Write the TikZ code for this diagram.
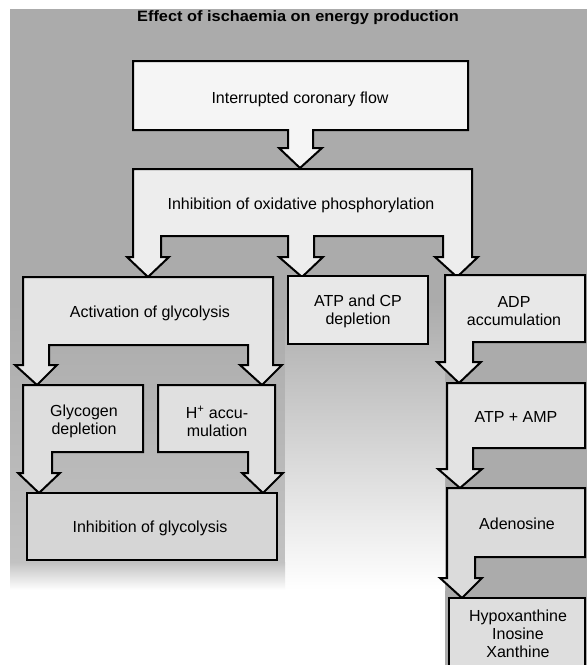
\documentclass[tikz,border=0pt]{standalone}
\usepackage{fontspec}
\usepackage{graphicx}
\setmainfont{Liberation Sans}
\definecolor{bgtop}{gray}{0.67}
\definecolor{bgmid}{gray}{0.76}
\tikzset{
  shapeline/.style={draw=black, line width=2pt, line join=miter, miter limit=4},
  lbl/.style={font=\fontsize{16}{18}\selectfont, align=center, inner sep=0pt, text=black},
}
\begin{document}
\begin{tikzpicture}[x=1pt,y=-1pt]
\useasboundingbox (0,0) rectangle (587,665);
\fill[white] (0,0) rectangle (587,665);
% scanned page background
\fill[bgtop] (10,9) rectangle (587,665);
\shade[top color=bgtop, bottom color=bgmid] (10,300) rectangle (285,562);
\shade[top color=bgtop, bottom color=white] (285,300) rectangle (445,590);
\shade[top color=bgmid, bottom color=white] (10,562) rectangle (285,590);
\fill[white] (0,590) rectangle (445,665);
\fill[white] (0,0) rectangle (10,665);
% title
\node[font=\fontsize{15}{17}\selectfont\bfseries, inner sep=0pt] (title) at (298,18) {\scalebox{1.09}[1]{Effect of ischaemia on energy production}};
% Box 1
\filldraw[shapeline, fill=gray!8] (133,61) -- (468,61) -- (468,130) -- (313,130) -- (313,148) -- (322,148) -- (300,168) -- (279,148) -- (288,148) -- (288,130) -- (133,130) -- cycle;
\node[lbl] (flow) at (300,99) {Interrupted coronary flow};
% Box 2
\filldraw[shapeline, fill=gray!14] (133,169) -- (472,169) -- (472,257) -- (478,257) -- (457,277) -- (435,257) -- (443,257) -- (443,236) -- (314,236) -- (314,257) -- (323,257) -- (302,277) -- (279,257) -- (288,257) -- (288,236) -- (161,236) -- (161,257) -- (169,257) -- (148,277) -- (127,257) -- (133,257) -- cycle;
\node[lbl] (oxphos) at (301,205) {Inhibition of oxidative phosphorylation};
% Activation of glycolysis
\filldraw[shapeline, fill=gray!20] (23,277) -- (273,277) -- (273,365) -- (282,365) -- (262,385) -- (240,365) -- (248,365) -- (248,345) -- (49,345) -- (49,365) -- (57,365) -- (37,385) -- (15,365) -- (23,365) -- cycle;
\node[lbl] (actgly) at (150,313) {Activation of glycolysis};
% ATP and CP depletion
\filldraw[shapeline, fill=gray!18] (288,276) rectangle (428,344);
\node[lbl] (atpcp) at (358,311) {ATP and CP\\depletion};
% ADP accumulation
\filldraw[shapeline, fill=gray!18] (445,275) -- (585,275) -- (585,342) -- (473,342) -- (473,362) -- (481,362) -- (459,383) -- (437,362) -- (445,362) -- cycle;
\node[lbl] (adp) at (514,311) {ADP\\accumulation};
% ATP + AMP
\filldraw[shapeline, fill=gray!22] (447,383) -- (585,383) -- (585,448) -- (473,448) -- (473,469) -- (482,469) -- (460,488) -- (438,469) -- (447,469) -- cycle;
\node[lbl] (atpamp) at (516,417) {ATP + AMP};
% Adenosine
\filldraw[shapeline, fill=gray!28] (447,488) -- (585,488) -- (585,557) -- (475,557) -- (475,578) -- (482,578) -- (462,598) -- (440,578) -- (447,578) -- cycle;
\node[lbl] (adeno) at (517,524) {Adenosine};
% Hypoxanthine
\filldraw[shapeline, fill=gray!26] (449,598) -- (585,598) -- (585,672) -- (449,672) -- cycle;
\node[lbl] (hypo) at (518,634) {Hypoxanthine\\Inosine\\Xanthine};
% Glycogen depletion
\filldraw[shapeline, fill=gray!26] (23,385) -- (143,385) -- (143,452) -- (52,452) -- (52,473) -- (60,473) -- (39,493) -- (18,473) -- (23,473) -- cycle;
\node[lbl] (glycogen) at (84,421) {Glycogen\\depletion};
% H+ accumulation
\filldraw[shapeline, fill=gray!24] (158,385) -- (275,385) -- (275,473) -- (283,473) -- (263,493) -- (242,473) -- (248,473) -- (248,452) -- (158,452) -- cycle;
\node[lbl] (hplus) at (217,421) {H\textsuperscript{+} accu-\\mulation};
% Inhibition of glycolysis
\filldraw[shapeline, fill=gray!32] (27,493) rectangle (277,560);
\node[lbl] (inhgly) at (150,528) {Inhibition of glycolysis};
\end{tikzpicture}
\end{document}
